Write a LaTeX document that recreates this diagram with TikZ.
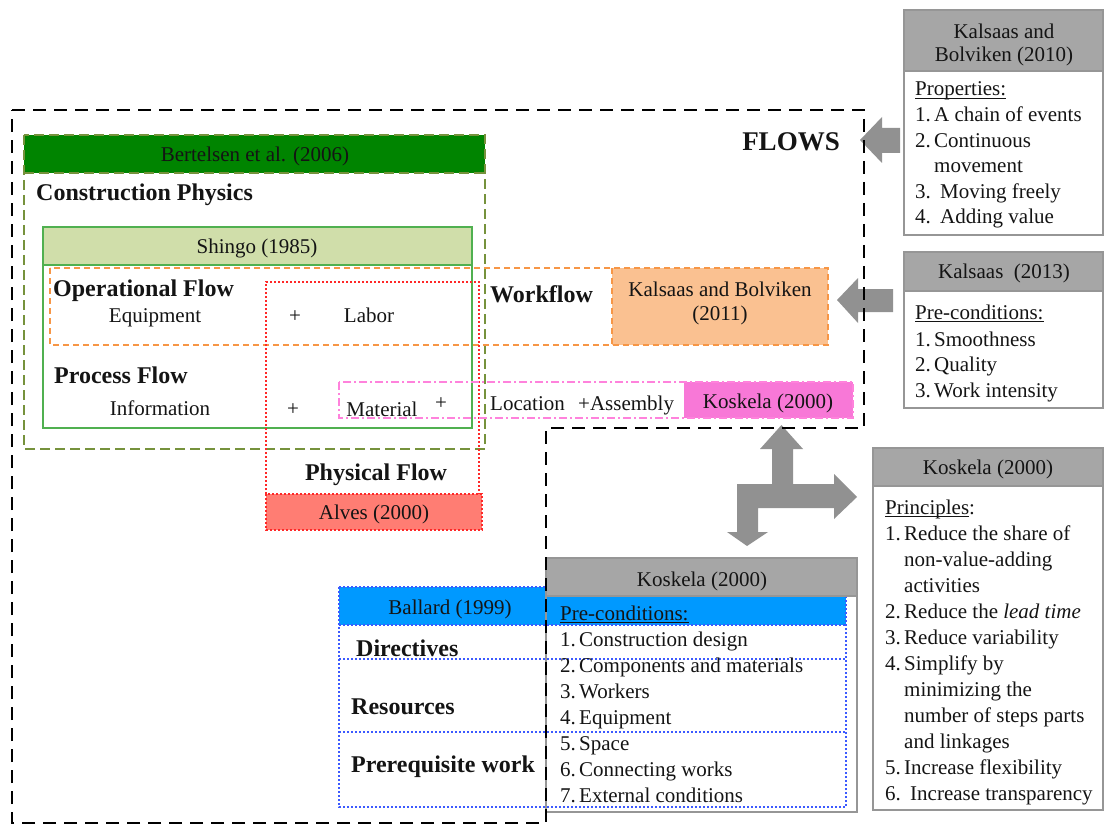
\documentclass[tikz,border=0pt]{standalone}
\usepackage{fontspec}
\setmainfont{Liberation Serif}
\definecolor{txtc}{RGB}{20,20,20}
\definecolor{bgreen}{RGB}{0,132,0}
\definecolor{oliveln}{RGB}{118,146,60}
\definecolor{shgln}{RGB}{80,176,80}
\definecolor{shgfill}{RGB}{208,222,170}
\definecolor{orngln}{RGB}{247,150,70}
\definecolor{peach}{RGB}{250,193,145}
\definecolor{redln}{RGB}{255,40,40}
\definecolor{alvesf}{RGB}{255,125,115}
\definecolor{pinkln}{RGB}{255,130,220}
\definecolor{pinkf}{RGB}{248,120,215}
\definecolor{blueln}{RGB}{60,90,255}
\definecolor{bluef}{RGB}{0,153,255}
\definecolor{grayh}{RGB}{166,166,166}
\definecolor{grayb}{RGB}{150,150,150}
\definecolor{arrowg}{RGB}{145,145,145}
\newcommand{\itm}[2]{\makebox[19pt][l]{#1}#2}
\newcommand{\itmw}[2]{\makebox[25pt][l]{#1}#2}
\newcommand{\myul}[1]{\setbox0\hbox{#1}\rlap{\rule[-2.6pt]{\wd0}{1pt}}\box0}
\begin{document}
\begin{tikzpicture}[x=1pt,y=-1pt,
  reg/.style={font=\fontsize{21}{25}\selectfont, inner sep=0pt, text=txtc},
  bld/.style={font=\fontsize{24}{28}\selectfont\bfseries, inner sep=0pt, text=txtc},
  frame/.style={draw=black, line width=2.6pt, dash pattern=on 13pt off 8pt},
  olivebox/.style={draw=oliveln, line width=1.3pt, dash pattern=on 10pt off 5pt},
  shgbox/.style={draw=shgln, line width=1.8pt},
  orngbox/.style={draw=orngln, line width=1.5pt, dash pattern=on 6pt off 4pt},
  redbox/.style={draw=redln, line width=1.5pt, dash pattern=on 2pt off 2pt},
  pinkbox/.style={draw=pinkln, line width=1.2pt, dash pattern=on 8pt off 3pt on 2pt off 3pt},
  bluebox/.style={draw=blueln, line width=1.4pt, dash pattern=on 2pt off 2pt},
  graybox/.style={draw=grayb, line width=1.3pt},
  blockarrow/.style={fill=arrowg, draw=none}
]
\useasboundingbox (0,0) rectangle (1105,826);

% Bertelsen box
\fill[bgreen] (24,135) rectangle (485,173);
\draw[olivebox] (24,135) rectangle (485,449);
\draw[olivebox] (24,173) -- (485,173);

% Shingo box
\fill[shgfill] (43,227) rectangle (472,265);
\draw[shgbox] (43,227) rectangle (472,428);
\draw[shgbox] (43,265) -- (472,265);

% Workflow (orange)
\fill[peach] (612,268) rectangle (828,345);
\draw[orngbox] (50,268) rectangle (828,345);
\draw[orngbox] (612,268) -- (612,345);

% Physical flow (red)
\fill[alvesf] (266,494) rectangle (482,530);
\draw[redbox] (266,494) rectangle (482,530);
\draw[redbox] (266,494) -- (266,282) -- (479,282) -- (479,494);

% Pink
\fill[pinkf] (684,382) rectangle (853,418);
\draw[pinkbox] (339,382) rectangle (853,418);

% Right gray boxes
\fill[grayh] (904,10) rectangle (1103,71);
\draw[graybox] (904,10) rectangle (1103,235);
\draw[graybox] (904,71) -- (1103,71);
\fill[grayh] (904,252) rectangle (1103,291);
\draw[graybox] (904,252) rectangle (1103,408);
\draw[graybox] (904,291) -- (1103,291);
\fill[grayh] (873,448) rectangle (1103,486);
\draw[graybox] (873,448) rectangle (1103,810);
\draw[graybox] (873,486) -- (1103,486);

% Ballard blue box
\fill[bluef] (339,587) rectangle (846,625);
\draw[bluebox] (339,587) rectangle (846,807);
\draw[bluebox] (339,625) -- (846,625);
\draw[bluebox] (339,659) -- (846,659);
\draw[bluebox] (339,732) -- (846,732);

% Koskela pre-conditions box
\fill[grayh] (546,558) rectangle (857,596);
\draw[graybox] (546,558) rectangle (857,812);
\draw[graybox] (546,596) -- (857,596);

% Block arrows
\fill[blockarrow] (860,140) -- (882,117) -- (882,128) -- (900,128) -- (900,153) -- (882,153) -- (882,163) -- cycle;
\fill[blockarrow] (837,300) -- (858,278) -- (858,289) -- (893,289) -- (893,312) -- (858,312) -- (858,323) -- cycle;
\fill[blockarrow] (781.5,425) -- (803,449) -- (793,449) -- (793,484) -- (834,484) -- (834,474) -- (857,497) -- (834,519) -- (834,508) -- (758,508) -- (758,532) -- (768,532) -- (747,546) -- (727,532) -- (737,532) -- (737,484) -- (772,484) -- (772,449) -- (760,449) -- cycle;

% Outer FLOWS frame
\draw[frame] (12,110) -- (864,110) -- (864,428) -- (546,428) -- (546,823) -- (12,823) -- cycle;

% Texts left part
\node[reg,anchor=base] (bert) at (255,162) {Bertelsen et al. (2006)};
\node[bld,anchor=base west] (cphys) at (36,201) {Construction Physics};
\node[reg,anchor=base] (shingo) at (257,254) {Shingo (1985)};
\node[bld,anchor=base west] (opflow) at (53,296) {Operational Flow};
\node[reg,anchor=base] (equip) at (155,322) {Equipment};
\node[reg,anchor=base] (plusa) at (295,322) {+};
\node[reg,anchor=base] (labor) at (369,322) {Labor};
\node[bld,anchor=base west] (wflow) at (490,302) {Workflow};
\node[reg,anchor=base] (kbA) at (720,296) {Kalsaas and Bolviken};
\node[reg,anchor=base] (kbB) at (720,320) {(2011)};
\node[bld,anchor=base west] (pflow) at (54,383) {Process Flow};
\node[reg,anchor=base] (info) at (160,415) {Information};
\node[reg,anchor=base] (plusb) at (293,415) {+};
\node[reg,anchor=base] (mat) at (382,416) {Material};
\node[reg,anchor=base] (plusc) at (441,409) {+};
\node[reg,anchor=base west] (loc) at (490,410) {Location};
\node[reg,anchor=base west] (asm) at (578,410) {+Assembly};
\node[reg,anchor=base] (koskA) at (768,408) {Koskela (2000)};
\node[font=\fontsize{27}{30}\selectfont\bfseries, inner sep=0pt, text=txtc, anchor=base] (flows) at (791,151) {FLOWS};
\node[bld,anchor=base] (phys) at (376,480) {Physical Flow};
\node[reg,anchor=base] (alves) at (374,519) {Alves (2000)};

% Ballard texts
\node[reg,anchor=base] (ballard) at (450,614) {Ballard (1999)};
\node[bld,anchor=base west] (direct) at (356,656) {Directives};
\node[bld,anchor=base west] (resour) at (351,714) {Resources};
\node[bld,anchor=base west] (prereq) at (351,772) {Prerequisite work};

% Koskela pre-conditions texts
\node[reg,anchor=base] (koskB) at (702,586) {Koskela (2000)};
\node[reg,anchor=base west] (pcB) at (560,620) {\myul{Pre-conditions:}};
\node[reg,anchor=base west] (pcB1) at (560,646) {\itm{1.}{Construction design}};
\node[reg,anchor=base west] (pcB2) at (560,672) {\itm{2.}{Components and materials}};
\node[reg,anchor=base west] (pcB3) at (560,698) {\itm{3.}{Workers}};
\node[reg,anchor=base west] (pcB4) at (560,724) {\itm{4.}{Equipment}};
\node[reg,anchor=base west] (pcB5) at (560,750) {\itm{5.}{Space}};
\node[reg,anchor=base west] (pcB6) at (560,776) {\itm{6.}{Connecting works}};
\node[reg,anchor=base west] (pcB7) at (560,802) {\itm{7.}{External conditions}};

% Right box 1
\node[reg,anchor=base] (kbh1) at (1004,39) {Kalsaas and};
\node[reg,anchor=base] (kbh2) at (1004,62) {Bolviken (2010)};
\node[reg,anchor=base west] (prop) at (915,96) {\myul{Properties:}};
\node[reg,anchor=base west] (prop1) at (915,122) {\itm{1.}{A chain of events}};
\node[reg,anchor=base west] (prop2) at (915,148) {\itm{2.}{Continuous}};
\node[reg,anchor=base west] (prop2b) at (915,173) {\itm{}{movement}};
\node[reg,anchor=base west] (prop3) at (915,199) {\itmw{3.}{Moving freely}};
\node[reg,anchor=base west] (prop4) at (915,224) {\itmw{4.}{Adding value}};

% Right box 2
\node[reg,anchor=base] (kh2) at (1004,279) {Kalsaas\ \ (2013)};
\node[reg,anchor=base west] (pcA) at (915,319) {\myul{Pre-conditions:}};
\node[reg,anchor=base west] (pcA1) at (915,346) {\itm{1.}{Smoothness}};
\node[reg,anchor=base west] (pcA2) at (915,371) {\itm{2.}{Quality}};
\node[reg,anchor=base west] (pcA3) at (915,397) {\itm{3.}{Work intensity}};

% Right box 3
\node[reg,anchor=base] (kh3) at (988,474) {Koskela (2000)};
\node[reg,anchor=base west] (prin) at (885,514) {\myul{Principles}:};
\node[reg,anchor=base west] (prin1) at (885,540) {\itm{1.}{Reduce the share of}};
\node[reg,anchor=base west] (prin1b) at (885,566) {\itm{}{non-value-adding}};
\node[reg,anchor=base west] (prin1c) at (885,592) {\itm{}{activities}};
\node[reg,anchor=base west] (prin2) at (885,618) {\itm{2.}{Reduce the \textit{lead time}}};
\node[reg,anchor=base west] (prin3) at (885,644) {\itm{3.}{Reduce variability}};
\node[reg,anchor=base west] (prin4) at (885,670) {\itm{4.}{Simplify by}};
\node[reg,anchor=base west] (prin4b) at (885,696) {\itm{}{minimizing the}};
\node[reg,anchor=base west] (prin4c) at (885,722) {\itm{}{number of steps parts}};
\node[reg,anchor=base west] (prin4d) at (885,748) {\itm{}{and linkages}};
\node[reg,anchor=base west] (prin5) at (885,774) {\itm{5.}{Increase flexibility}};
\node[reg,anchor=base west] (prin6) at (885,800) {\itmw{6.}{Increase transparency}};
\end{tikzpicture}
\end{document}
